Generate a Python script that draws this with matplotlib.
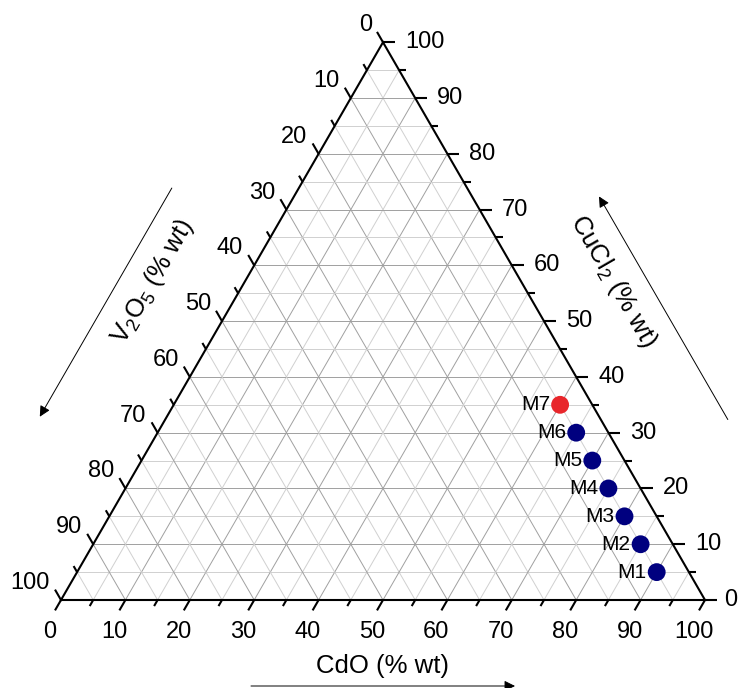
import numpy as np
import matplotlib
matplotlib.use('Agg')
import matplotlib.pyplot as plt

plt.rcParams['font.family'] = ['Liberation Sans', 'DejaVu Sans']
plt.rcParams['mathtext.fontset'] = 'custom'
plt.rcParams['mathtext.rm'] = 'Liberation Sans'
plt.rcParams['mathtext.it'] = 'Liberation Sans:italic'

# composition of the samples (% wt)
names = ['M1', 'M2', 'M3', 'M4', 'M5', 'M6', 'M7']
cdo = [90, 85, 80, 75, 70, 65, 60]
cucl2 = [5, 10, 15, 20, 25, 30, 35]
v2o5 = [5, 5, 5, 5, 5, 5, 5]
colors = ['#00007f'] * 6 + ['#e8262b']

ticks = list(range(0, 101, 10))
minor = list(range(5, 100, 10))

PX = 100 / 644.0  # data units per pixel
S3 = np.sqrt(3) / 2


def xy(a, c):
    # a = CdO, c = CuCl2 -> cartesian
    return a + c / 2.0, c * S3


fig = plt.figure(figsize=(7.38, 6.88), dpi=100)
ax = fig.add_axes([0, 0, 1, 1])
ax.set_xlim(-61 * PX, (738 - 61) * PX)
ax.set_ylim(-88 * PX, 600 * PX)
ax.axis('off')

# grid
for p in range(5, 100, 5):
    col = '#a0a0a0' if p % 10 == 0 else '#d0d0d0'
    segs = [(xy(p, 0), xy(p, 100 - p)),
            (xy(0, p), xy(100 - p, p)),
            (xy(100 - p, 0), xy(0, 100 - p))]
    for s in segs:
        ax.plot([s[0][0], s[1][0]], [s[0][1], s[1][1]], color=col, lw=0.7, zorder=1)

# triangle frame
tri = [xy(0, 0), xy(100, 0), xy(0, 100), xy(0, 0)]
ax.plot([t[0] for t in tri], [t[1] for t in tri], color='black', lw=1.5,
        zorder=3, solid_joinstyle='miter')

# ticks
dirs = {'b': (-0.5, -S3), 'r': (1.0, 0.0), 'l': (-0.5, S3)}


def tick(p0, d, length):
    L = length * PX
    ax.plot([p0[0], p0[0] + d[0] * L], [p0[1], p0[1] + d[1] * L],
            color='black', lw=1.5, zorder=3, solid_capstyle='butt')


for p in ticks + minor:
    length = 12 if p in ticks else 7
    tick(xy(p, 0), dirs['b'], length)
    tick(xy(100 - p, p), dirs['r'], length)
    tick(xy(0, 100 - p), dirs['l'], length)

fs = 17
for p in ticks:
    x, y = xy(p, 0)
    ax.text(x - 11 * PX, y - 32 * PX, str(p), ha='center', va='center', fontsize=fs)
    x, y = xy(100 - p, p)
    dx = 19 if p == 0 else 22
    ax.text(x + dx * PX, y, str(p), ha='left', va='center', fontsize=fs)
    x, y = xy(0, 100 - p)
    ax.text(x - 11 * PX, y + 17 * PX, str(p), ha='right', va='center', fontsize=fs)

# axis titles
tfs = 18.5
ax.text(50, -66 * PX, 'CdO (% wt)', ha='center', va='center', fontsize=tfs)
mx, my = xy(0, 50)
nl = (-S3, 0.5)
ax.text(mx + nl[0] * 80 * PX, my + nl[1] * 80 * PX, r'V$_2$O$_5$ (% wt)',
        ha='center', va='center', fontsize=tfs, rotation=60, rotation_mode='anchor')
mx, my = xy(50, 50)
nr = (S3, 0.5)
ax.text(mx + nr[0] * 80 * PX, my + nr[1] * 80 * PX, r'CuCl$_2$ (% wt)',
        ha='center', va='center', fontsize=tfs, rotation=-60, rotation_mode='anchor')

# direction arrows
aprops = dict(arrowstyle='-|>', color='black', lw=0.7, mutation_scale=16,
              shrinkA=0, shrinkB=0)
off = 110 * PX
t0, t1 = xy(0, 64), xy(0, 23)
ax.annotate('', xy=(t1[0] + nl[0] * off, t1[1] + nl[1] * off),
            xytext=(t0[0] + nl[0] * off, t0[1] + nl[1] * off), arrowprops=aprops)
t0, t1 = xy(100 - 22.5, 22.5), xy(100 - 62.5, 62.5)
ax.annotate('', xy=(t1[0] + nr[0] * off, t1[1] + nr[1] * off),
            xytext=(t0[0] + nr[0] * off, t0[1] + nr[1] * off), arrowprops=aprops)
ax.annotate('', xy=(70.5, -86 * PX), xytext=(29.5, -86 * PX), arrowprops=aprops)

# samples
px = [xy(a, c)[0] for a, c in zip(cdo, cucl2)]
py = [xy(a, c)[1] for a, c in zip(cdo, cucl2)]
ax.scatter(px, py, s=165, c=colors, edgecolors='none', zorder=5)
for n, x, y in zip(names, px, py):
    ax.text(x - 10 * PX, y, n, ha='right', va='center', fontsize=15, zorder=6)

fig.savefig('out.png', dpi=100)
